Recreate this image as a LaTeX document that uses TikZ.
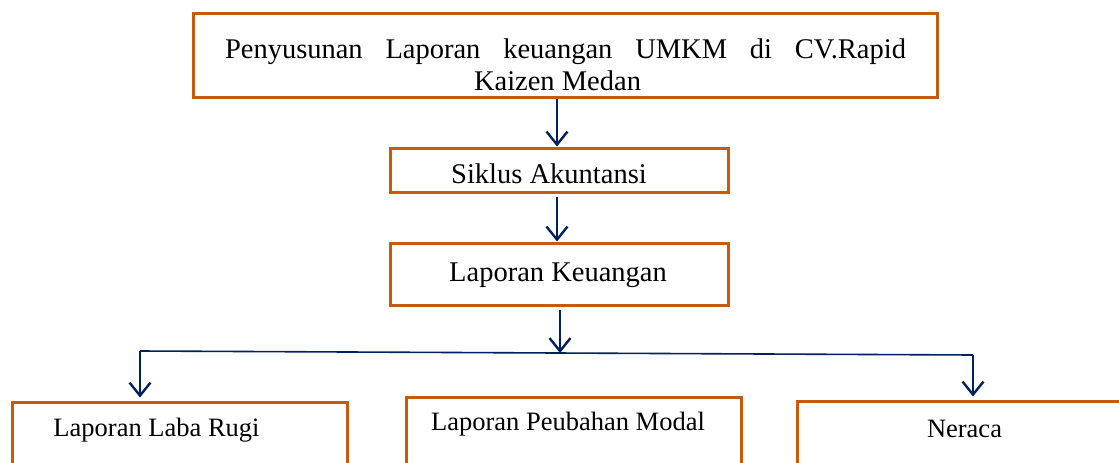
\documentclass[tikz,border=0pt]{standalone}
\usepackage{fontspec}
\setmainfont{Liberation Serif}
\usetikzlibrary{arrows.meta}
\definecolor{boxorange}{HTML}{C55A11}
\definecolor{navy}{HTML}{002060}
\begin{document}
\begin{tikzpicture}[x=1pt,y=-1pt,
  box/.style={draw=boxorange,line width=3pt,inner sep=0pt},
  lbl/.style={anchor=base,inner sep=0pt,font=\fontsize{28.5}{34}\selectfont},
  slbl/.style={anchor=base,inner sep=0pt,font=\fontsize{26.5}{32}\selectfont},
  arr/.style={draw=navy,line width=2.4pt,-{Straight Barb[length=13pt,width=21pt]}},
  hline/.style={draw=navy,line width=1.6pt}]
\useasboundingbox (0,0) rectangle (1119,463);
\clip (0,0) rectangle (1119,463);
% boxes
\node[box,minimum width=744pt,minimum height=84pt] (top) at (565,55) {};
\node[box,minimum width=338pt,minimum height=44pt] (siklus) at (559,170) {};
\node[box,minimum width=338pt,minimum height=62pt] (keu) at (559,274) {};
\node[box,minimum width=335pt,minimum height=78pt] (A) at (179.5,441) {};
\node[box,minimum width=335pt,minimum height=83pt] (B) at (573.5,438.5) {};
\node[box,minimum width=343pt,minimum height=79pt] (C) at (968.5,440.5) {};
% texts
\node[lbl] (t1) at (565.5,58) {\makebox[681pt][s]{Penyusunan Laporan keuangan UMKM di CV.Rapid}};
\node[lbl] (t2) at (557.5,90) {Kaizen Medan};
\node[lbl] (ts) at (549,183) {Siklus Akuntansi};
\node[lbl] (tk) at (558,281) {Laporan Keuangan};
\node[slbl] (ta) at (156.5,436) {Laporan Laba Rugi};
\node[slbl] (tb) at (568,430) {Laporan Peubahan Modal};
\node[slbl] (tc) at (964.5,437) {Neraca};
% connectors
\coordinate (a1) at (557,0);
\coordinate (a3) at (560,0);
\coordinate (hub) at (560,353);
\coordinate (hl) at (140,351);
\coordinate (hr) at (973,355);
\draw[arr] (top.south -| a1) -- (siklus.north -| a1);
\draw[arr,shorten <=3pt] (siklus.south -| a1) -- (keu.north -| a1);
\draw[arr,shorten <=3pt] (keu.south -| a3) -- (hub);
\draw[hline] (hl) -- (hr);
\draw[arr,shorten >=3pt] (hl) -- (hl |- A.north);
\draw[arr,shorten >=3pt] (hr) -- (hr |- C.north);
\end{tikzpicture}
\end{document}
